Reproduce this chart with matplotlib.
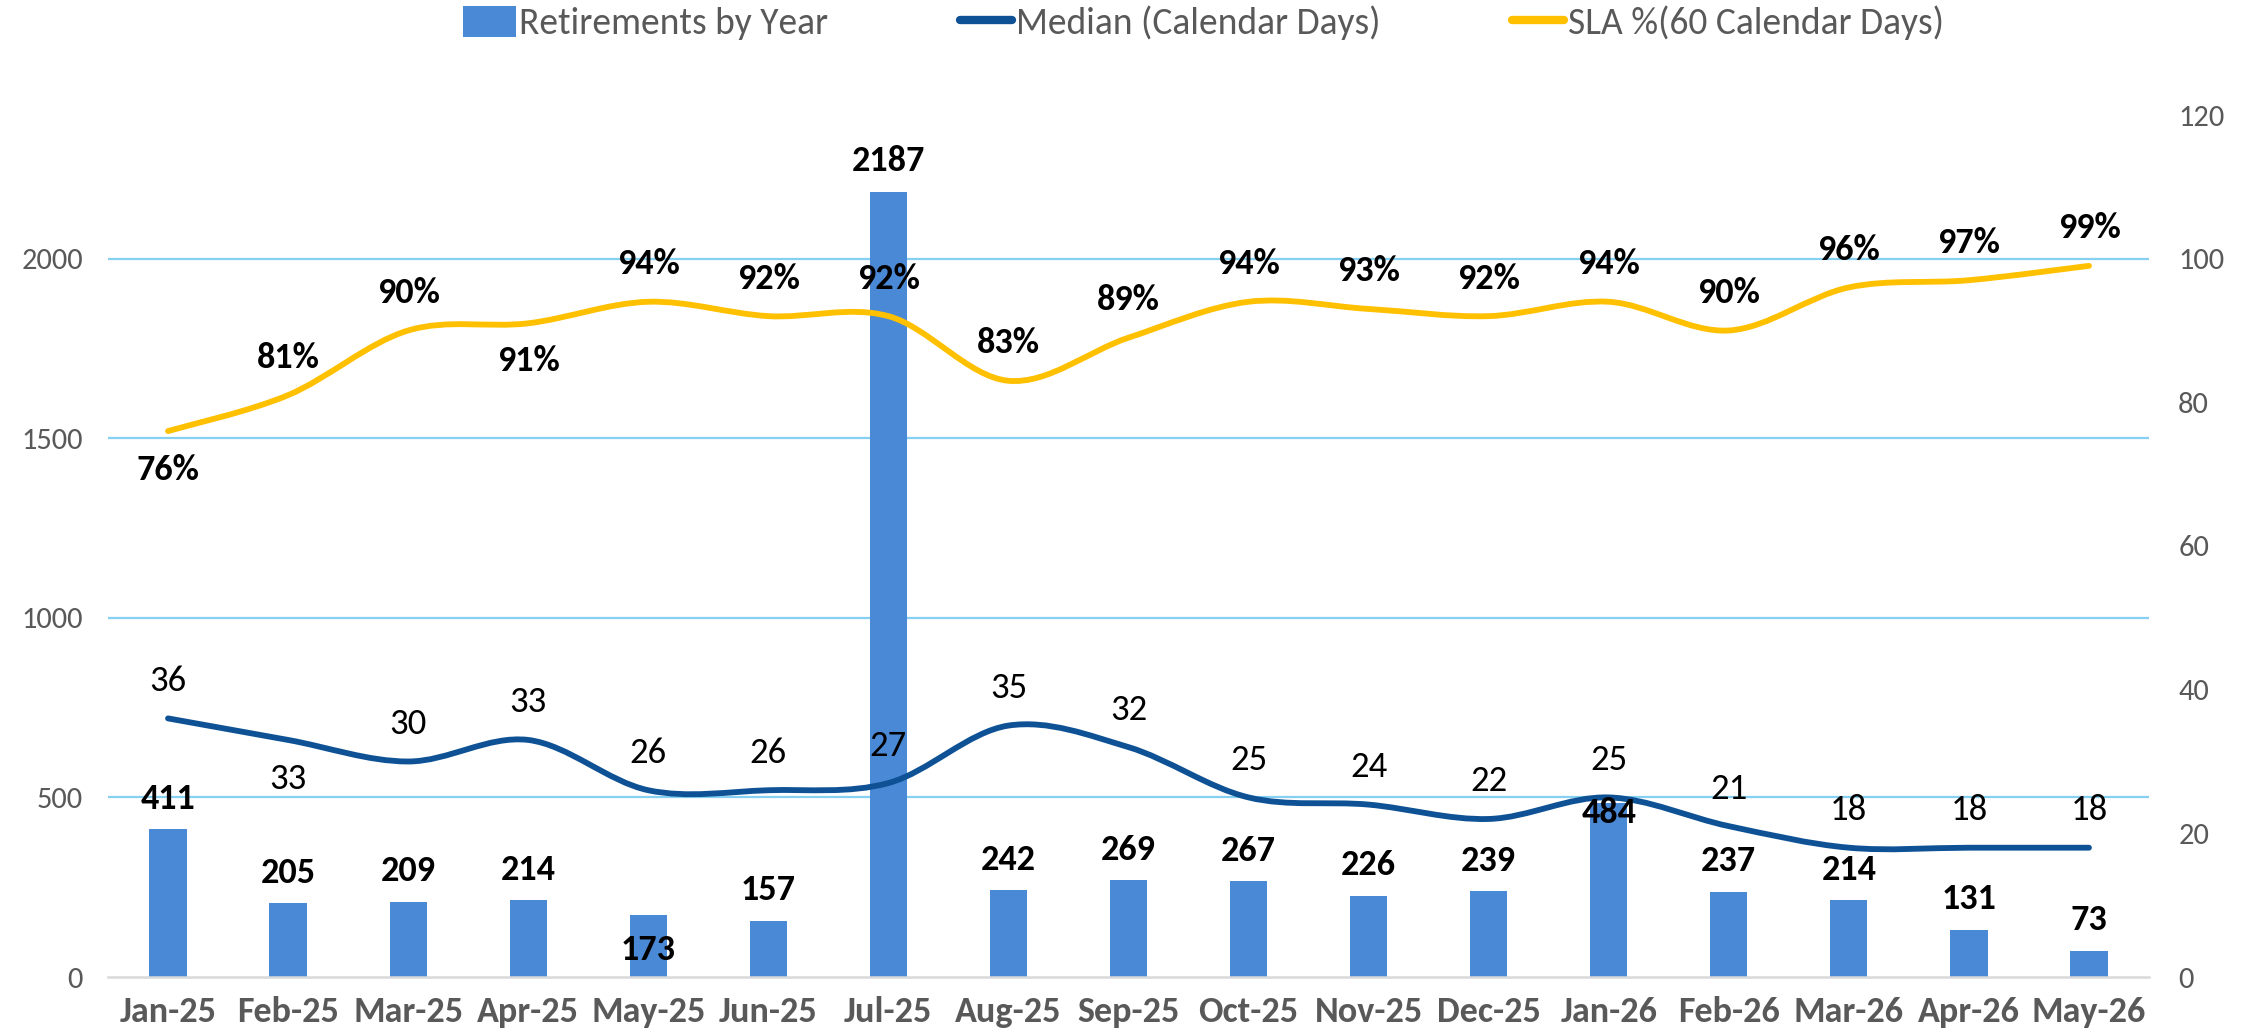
import matplotlib
matplotlib.use("Agg")
import matplotlib.pyplot as plt
from matplotlib.path import Path
from matplotlib.patches import PathPatch, Patch
from matplotlib.lines import Line2D

plt.rcParams['font.family'] = ['Carlito', 'Roboto Condensed', 'Archivo Narrow', 'Liberation Sans', 'DejaVu Sans']

months = ["Jan-25", "Feb-25", "Mar-25", "Apr-25", "May-25", "Jun-25", "Jul-25", "Aug-25",
          "Sep-25", "Oct-25", "Nov-25", "Dec-25", "Jan-26", "Feb-26", "Mar-26", "Apr-26", "May-26"]
retirements = [411, 205, 209, 214, 173, 157, 2187, 242, 269, 267, 226, 239, 484, 237, 214, 131, 73]
median_days = [36, 33, 30, 33, 26, 26, 27, 35, 32, 25, 24, 22, 25, 21, 18, 18, 18]
sla_pct = [76, 81, 90, 91, 94, 92, 92, 83, 89, 94, 93, 92, 94, 90, 96, 97, 99]

BAR_C = "#4A89D6"
MED_C = "#0E5295"
SLA_C = "#FFC000"
GRID_C = "#86D0F2"
TICK_C = "#595959"

# label offsets in points (positive = above the point)
bar_off = {4: -25, 12: -7}
med_off = {1: -28}
sla_off = {0: -28, 3: -27}


def smooth_path(xs, ys):
    # Excel-style smoothed line: cubic bezier segments with catmull-rom control points
    n = len(xs)
    pts = list(zip(xs, ys))
    verts = [pts[0]]
    codes = [Path.MOVETO]
    for i in range(n - 1):
        p0 = pts[i - 1] if i > 0 else pts[i]
        p1 = pts[i]
        p2 = pts[i + 1]
        p3 = pts[i + 2] if i + 2 < n else pts[i + 1]
        c1 = (p1[0] + (p2[0] - p0[0]) / 6, p1[1] + (p2[1] - p0[1]) / 6)
        c2 = (p2[0] - (p3[0] - p1[0]) / 6, p2[1] - (p3[1] - p1[1]) / 6)
        verts += [c1, c2, p2]
        codes += [Path.CURVE4] * 3
    return Path(verts, codes)


fig = plt.figure(figsize=(22.54, 10.35), dpi=100)
ax = fig.add_axes([108 / 2254, 58 / 1035, 2041 / 2254, 862 / 1035])
ax2 = ax.twinx()

x = list(range(len(months)))
ax.bar(x, retirements, width=0.31, color=BAR_C, zorder=2)
ax.set_ylim(0, 2400)
ax.set_yticks([0, 500, 1000, 1500, 2000])
ax.set_xlim(-0.5, len(months) - 0.5)
ax.set_xticks(x)
ax.set_xticklabels(months, fontsize=26, fontweight='bold', color=TICK_C)
for g in [500, 1000, 1500, 2000]:
    ax.axhline(g, color=GRID_C, lw=1.6, zorder=1)

ax2.set_ylim(0, 120)
ax2.set_yticks(range(0, 121, 20))

ax2.add_patch(PathPatch(smooth_path(x, median_days), fill=False, edgecolor=MED_C,
                        lw=4.2, capstyle='round', joinstyle='round', zorder=3))
ax2.add_patch(PathPatch(smooth_path(x, sla_pct), fill=False, edgecolor=SLA_C,
                        lw=4.2, capstyle='round', joinstyle='round', zorder=3))

for a in (ax, ax2):
    for s in a.spines.values():
        s.set_visible(False)
    a.tick_params(axis='y', length=0, labelsize=22, labelcolor=TICK_C)
ax.spines['bottom'].set_visible(True)
ax.spines['bottom'].set_color("#D9D9D9")
ax.spines['bottom'].set_linewidth(1.8)
ax.tick_params(axis='x', length=0, pad=14)
ax.tick_params(axis='y', pad=18)
ax2.tick_params(axis='y', pad=21)

# data labels sit on the top axes so the lines don't cover them
for i, v in enumerate(retirements):
    ax2.annotate(str(v), xy=(i, v), xycoords=ax.transData, xytext=(0, bar_off.get(i, 22)),
                 textcoords='offset points', ha='center', va='center',
                 fontsize=26, fontweight='bold', color='black', zorder=5)
for i, v in enumerate(median_days):
    ax2.annotate(str(v), xy=(i, v), xytext=(0, med_off.get(i, 27)),
                 textcoords='offset points', ha='center', va='center',
                 fontsize=26.5, color='black', zorder=5)
for i, v in enumerate(sla_pct):
    ax2.annotate(f"{v}%", xy=(i, v), xytext=(0, sla_off.get(i, 27)),
                 textcoords='offset points', ha='center', va='center',
                 fontsize=26, fontweight='bold', color='black', zorder=5)

handles = [Patch(facecolor=BAR_C, edgecolor='none'),
           Line2D([], [], color=MED_C, lw=6, solid_capstyle='round'),
           Line2D([], [], color=SLA_C, lw=6, solid_capstyle='round')]
fig.legend(handles, ["Retirements by Year", "Median (Calendar Days)", "SLA %(60 Calendar Days)"],
           loc='center', bbox_to_anchor=(0.534, 0.978), ncol=3, frameon=False,
           fontsize=27, handlelength=1.4, handleheight=0.9, handletextpad=0.1,
           columnspacing=3.5, labelcolor=TICK_C)

fig.savefig("out.png", dpi=100)
